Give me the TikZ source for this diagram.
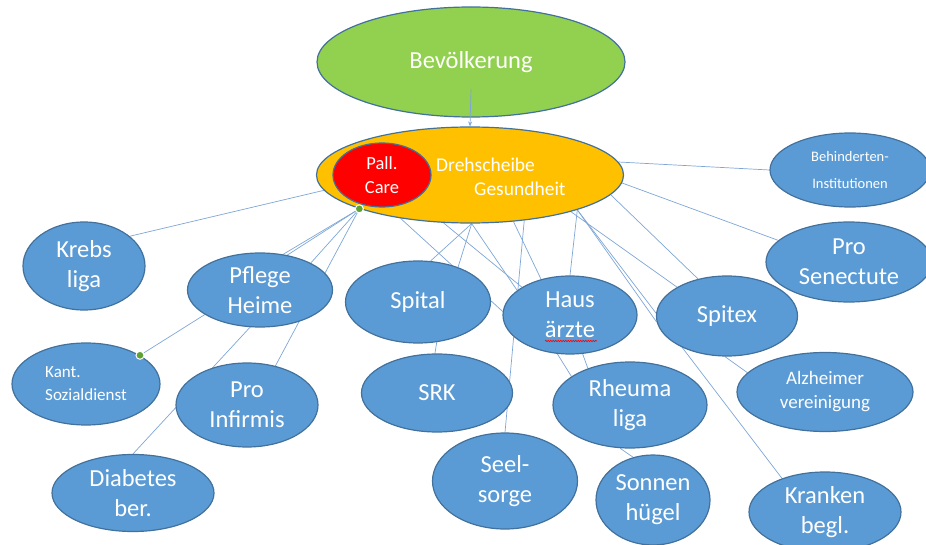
\documentclass[tikz,border=0pt]{standalone}
\usepackage{fontspec}
\setmainfont{Carlito}
\usetikzlibrary{shapes.geometric,arrows.meta,decorations.pathmorphing}
\definecolor{cblue}{HTML}{5B9BD5}
\definecolor{rim}{HTML}{41719C}
\definecolor{cgreen}{HTML}{92D050}
\definecolor{corange}{HTML}{FFC000}
\definecolor{cline}{HTML}{7EA6D6}
\definecolor{cdot}{HTML}{5BA332}
\pgfdeclarelayer{bg}
\pgfsetlayers{bg,main}

\begin{document}
\begin{tikzpicture}[x=1pt,y=-1pt,
  main node/.style={ellipse,draw=rim,line width=1.2pt,fill=cblue,text=white,inner sep=0pt,align=center,font=\fontsize{24.5}{30}\selectfont},
  dims/.style 2 args={minimum width=#1pt,minimum height=#2pt},
  dot node/.style={circle,fill=cdot,draw=white,line width=1pt,inner sep=0pt,minimum size=8pt},
  link/.style={draw=cline,line width=0.7pt},
  spell/.style={red,line width=0.6pt,decorate,decoration={snake,amplitude=0.7pt,segment length=2.5pt}}]

  \useasboundingbox (0,0) rectangle (926,545);

  \node[main node,dims={308}{110},fill=cgreen] (0) at (471,62){Bevölkerung};
  \node[main node,dims={307}{96},fill=corange] (1) at (470,175){};
  \node[main node,dims={98}{64},fill=red,font=\fontsize{18.5}{24}\selectfont] (2) at (382,175){Pall.\\Care};
  \node[text=white,align=left,anchor=west,inner sep=0pt,font=\fontsize{19.5}{24}\selectfont] (21) at (436,177){Drehscheibe\\\hspace*{38pt}Gesundheit};

  \node[main node,dims={122}{88}] (3) at (84,266){Krebs\\liga};
  \node[main node,dims={145}{74}] (4) at (260,290){Pflege\\Heime};
  \node[main node,dims={148}{82},align=left,font=\fontsize{17}{23}\selectfont] (5) at (86,384){Kant.\\Sozialdienst};
  \node[main node,dims={142}{84}] (6) at (247,405){Pro\\Infirmis};
  \node[main node,dims={162}{77}] (7) at (133,493){Diabetes\\ber.};
  \node[main node,dims={145}{82}] (8) at (418,302){Spital};
  \node[main node,dims={151}{78}] (9) at (437,393){SRK};
  \node[main node,dims={145}{96}] (10) at (505,481){Seel-\\sorge};
  \node[main node,dims={134}{78}] (11) at (570,315){Haus\\ärzte};
  \node[main node,dims={154}{86}] (12) at (630,405){Rheuma\\liga};
  \node[main node,dims={114}{90}] (13) at (653,500){Sonnen\\hügel};
  \node[main node,dims={141}{80}] (14) at (727,316){Spitex};
  \node[main node,dims={176}{79},font=\fontsize{19}{24}\selectfont] (15) at (825,392){Alzheimer\\vereinigung};
  \node[main node,dims={152}{80}] (16) at (825,512){Kranken\\begl.};
  \node[main node,dims={166}{80}] (17) at (849,262){Pro\\Senectute};
  \node[main node,dims={160}{74},font=\fontsize{14.5}{27}\selectfont] (18) at (850,170){Behinderten-\\Institutionen};

  \node[dot node] (19) at (1.197){};
  \node[dot node] (20) at (5.28){};

  \begin{pgfonlayer}{bg}
  \path[link]
     (1.186) edge (3.33)
     (19) edge (4.52)
     (19) edge (4.57)
     (19) edge (4.28)
     (19) edge (6.54)
     (4.204) edge (20)
     (4.255) edge (7.90)
     (1.212) edge (11.177)
     (1.272) edge (8.73)
     (1.272) edge (8.41)
     (1.272) edge (11.155)
     (1.241) edge (11.150)
     (1.313) edge (11.129)
     (1.320) edge (10.90)
     (8.295) edge (9.93)
     (11.252) edge (12.154)
     (11.288) edge (12.139)
     (12.257) edge (13.115)
     (14.267) edge (15.166)
     (1.342) edge (11.90)
     (1.342) edge (16.142)
     (1.342) edge (14.185)
     (1.340) edge (14.150)
     (1.352) edge (14.128)
     (1.-3) edge (17.163)
     (1.5) edge (18.180);
  \end{pgfonlayer}

  \draw[link,-{Stealth[length=5pt,width=4pt]}] ([yshift=-27pt]0.center) -- (1.90);

  % spell check marks
  \draw[spell] ([xshift=-16pt,yshift=3pt]2.center) -- ([xshift=15pt,yshift=3pt]2.center);
  \draw[spell] ([xshift=-25pt,yshift=-26pt]11.center) -- ([xshift=27pt,yshift=-26pt]11.center);
\end{tikzpicture}
\end{document}
